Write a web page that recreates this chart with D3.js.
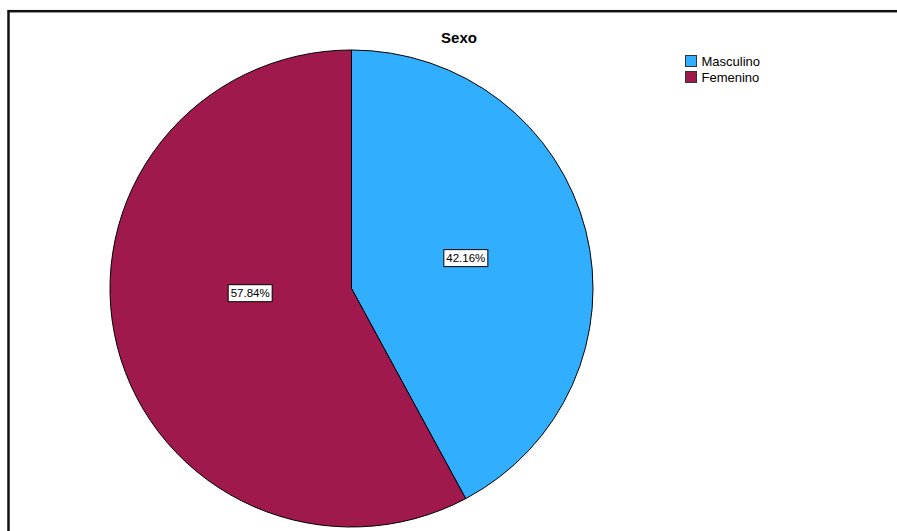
<!DOCTYPE html>
<html>
<head>
    <meta charset="utf-8">
    <title>Sexo</title>
    <script src="https://cdn.jsdelivr.net/npm/d3@7"></script>
    <style>
        body { margin: 0; background: #fff; }
        svg { font-family: "Liberation Sans", Arial, sans-serif; }
        .slice { stroke: #000; stroke-width: 1px; vector-effect: non-scaling-stroke; }
        .lbl rect { fill: #fff; stroke: #000; stroke-width: 1px; }
        .lbl text { font-size: 11.5px; fill: #000; }
        .legend text { font-size: 13px; fill: #000; }
    </style>
</head>
<body>
<script>
    // data
    let categories = ["Masculino", "Femenino"];
    let percents = [42.16, 57.84];
    let colors = ["#31aefe", "#a0194d"];

    let width = 897;
    let height = 531;

    let cx = 351.5, cy = 288.5;
    let rx = 241.5, ry = 238.5;

    let svg = d3.select("body").append("svg")
        .attr("width", width)
        .attr("height", height);

    // outer frame (runs off the right and bottom edges)
    svg.append("rect")
        .attr("x", 8.5).attr("y", 11.2)
        .attr("width", 1000).attr("height", 1000)
        .attr("fill", "none")
        .attr("stroke", "#111")
        .attr("stroke-width", 2.5);

    svg.append("text")
        .attr("x", 459).attr("y", 43)
        .attr("text-anchor", "middle")
        .attr("font-weight", "bold")
        .attr("font-size", "15px")
        .text("Sexo");

    let data = categories.map((c, i) => ({ name: c, value: percents[i], color: colors[i] }));

    let pie = d3.pie().sort(null).value(d => d.value);
    let arcs = pie(data);
    let arc = d3.arc().innerRadius(0).outerRadius(rx);

    let g = svg.append("g")
        .attr("transform", "translate(" + cx + "," + cy + ") scale(1," + (ry / rx) + ")");

    g.selectAll("path")
        .data(arcs)
        .join("path")
        .attr("class", "slice")
        .attr("d", arc)
        .attr("fill", d => d.data.color);

    // labels near the area centroid of each sector, nudged like SPSS does
    let labelShift = [[0, -2], [-18, -16]];
    let labels = svg.selectAll("g.lbl")
        .data(arcs)
        .join("g")
        .attr("class", "lbl")
        .attr("transform", (d, i) => {
            let a = d.endAngle - d.startAngle;
            let mid = (d.startAngle + d.endAngle) / 2;
            let k = 4 * Math.sin(a / 2) / (3 * a);
            let x = cx + Math.sin(mid) * rx * k + labelShift[i][0];
            let y = cy - Math.cos(mid) * ry * k + labelShift[i][1];
            return "translate(" + x + "," + y + ")";
        });

    labels.append("rect")
        .attr("x", -22).attr("y", -8.5)
        .attr("width", 44).attr("height", 17);

    labels.append("text")
        .attr("text-anchor", "middle")
        .attr("dy", "0.36em")
        .text(d => d.data.value.toFixed(2) + "%");

    // legend
    let legend = svg.append("g")
        .attr("class", "legend")
        .attr("transform", "translate(685.5,55.5)");

    let item = legend.selectAll("g")
        .data(data)
        .join("g")
        .attr("transform", (d, i) => "translate(0," + (i * 16) + ")");

    item.append("rect")
        .attr("width", 11).attr("height", 11)
        .attr("fill", d => d.color)
        .attr("stroke", "#333");

    item.append("text")
        .attr("x", 16).attr("y", 10.5)
        .text(d => d.name);
</script>
</body>
</html>
